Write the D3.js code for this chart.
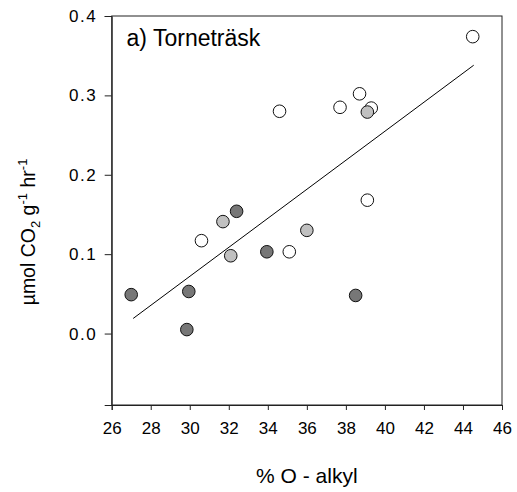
<!DOCTYPE html>
<html>
<head>
<meta charset="utf-8">
<script src="https://cdn.jsdelivr.net/npm/d3@7"></script>
<style>
body { margin: 0; background: #fff; }
text { font-family: Arial, "Liberation Sans", sans-serif; fill: #000; }
</style>
</head>
<body>
<script>
// % O-alkyl vs respiration, three groups of samples
var openX  = [30.6, 34.6, 35.1, 37.7, 38.7, 39.1, 39.3, 44.5];
var openY  = [0.117, 0.280, 0.103, 0.285, 0.302, 0.168, 0.284, 0.374];
var lightX = [31.7, 32.1, 36.0, 39.1];
var lightY = [0.141, 0.098, 0.130, 0.279];
var darkX  = [27.0, 29.85, 29.95, 32.4, 33.95, 38.5];
var darkY  = [0.049, 0.005, 0.053, 0.154, 0.103, 0.048];
var fitX = [27.1, 44.55];
var fitY = [0.019, 0.338];
var xTicks = [26, 28, 30, 32, 34, 36, 38, 40, 42, 44, 46];
var yTicks = [0.0, 0.1, 0.2, 0.3, 0.4];

var width = 517, height = 492;
var plotL = 111.7, plotR = 502, plotT = 16, plotB = 405;

var svg = d3.select("body").append("svg")
    .attr("width", width)
    .attr("height", height);

var x = d3.scaleLinear().domain([26, 46]).range([plotL, plotR]);
var y = d3.scaleLinear().domain([-0.09, 0.4]).range([plotB, plotT]);

// frame
svg.append("rect")
    .attr("x", plotL).attr("y", plotT)
    .attr("width", plotR - plotL).attr("height", plotB - plotT)
    .attr("fill", "none").attr("stroke", "#222").attr("stroke-width", 1);

var xAxis = svg.append("g")
    .attr("transform", "translate(0," + plotB + ")")
    .call(d3.axisBottom(x).tickValues(xTicks).tickSize(5).tickPadding(12).tickFormat(d3.format("d")));
var yAxis = svg.append("g")
    .attr("transform", "translate(" + plotL + ",0)")
    .call(d3.axisLeft(y).tickValues(yTicks).tickSize(7).tickPadding(7.5).tickFormat(d3.format(".1f")));

[xAxis, yAxis].forEach(function(a) {
    a.select(".domain").attr("stroke", "#222");
    a.selectAll(".tick line").attr("stroke", "#222");
    a.selectAll(".tick text").attr("font-size", 17).attr("font-family", "Arial, 'Liberation Sans', sans-serif").attr("fill", "#000");
});
yAxis.selectAll(".tick text").attr("letter-spacing", 1.5);

// regression line
svg.append("line")
    .attr("x1", x(fitX[0])).attr("y1", y(fitY[0]))
    .attr("x2", x(fitX[1])).attr("y2", y(fitY[1]))
    .attr("stroke", "#000").attr("stroke-width", 1);

function drawGroup(xs, ys, fill) {
    svg.append("g").selectAll("circle")
        .data(xs.map(function(d, i) { return [d, ys[i]]; }))
        .enter().append("circle")
        .attr("cx", function(d) { return x(d[0]); })
        .attr("cy", function(d) { return y(d[1]); })
        .attr("r", 6.3)
        .attr("fill", fill)
        .attr("stroke", "#111")
        .attr("stroke-width", 1);
}
drawGroup(openX, openY, "#ffffff");
drawGroup(lightX, lightY, "#c0c0c0");
drawGroup(darkX, darkY, "#777777");

// panel label
svg.append("text")
    .attr("x", 126.5).attr("y", 46)
    .attr("font-size", 23)
    .text("a) Torneträsk");

// axis titles
svg.append("text")
    .attr("x", (plotL + plotR) / 2).attr("y", 483)
    .attr("text-anchor", "middle")
    .attr("font-size", 21)
    .text("% O - alkyl");

var yl = svg.append("text")
    .attr("transform", "translate(35," + 232 + ") rotate(-90)")
    .attr("text-anchor", "middle")
    .attr("font-size", 19.5);
yl.append("tspan").text("\u00b5mol CO");
yl.append("tspan").attr("dy", 5).attr("font-size", 13).text("2");
yl.append("tspan").attr("dy", -5).text(" g");
yl.append("tspan").attr("dy", -8).attr("font-size", 13).text("-1");
yl.append("tspan").attr("dy", 8).text(" hr");
yl.append("tspan").attr("dy", -8).attr("font-size", 13).text("-1");
</script>
</body>
</html>
